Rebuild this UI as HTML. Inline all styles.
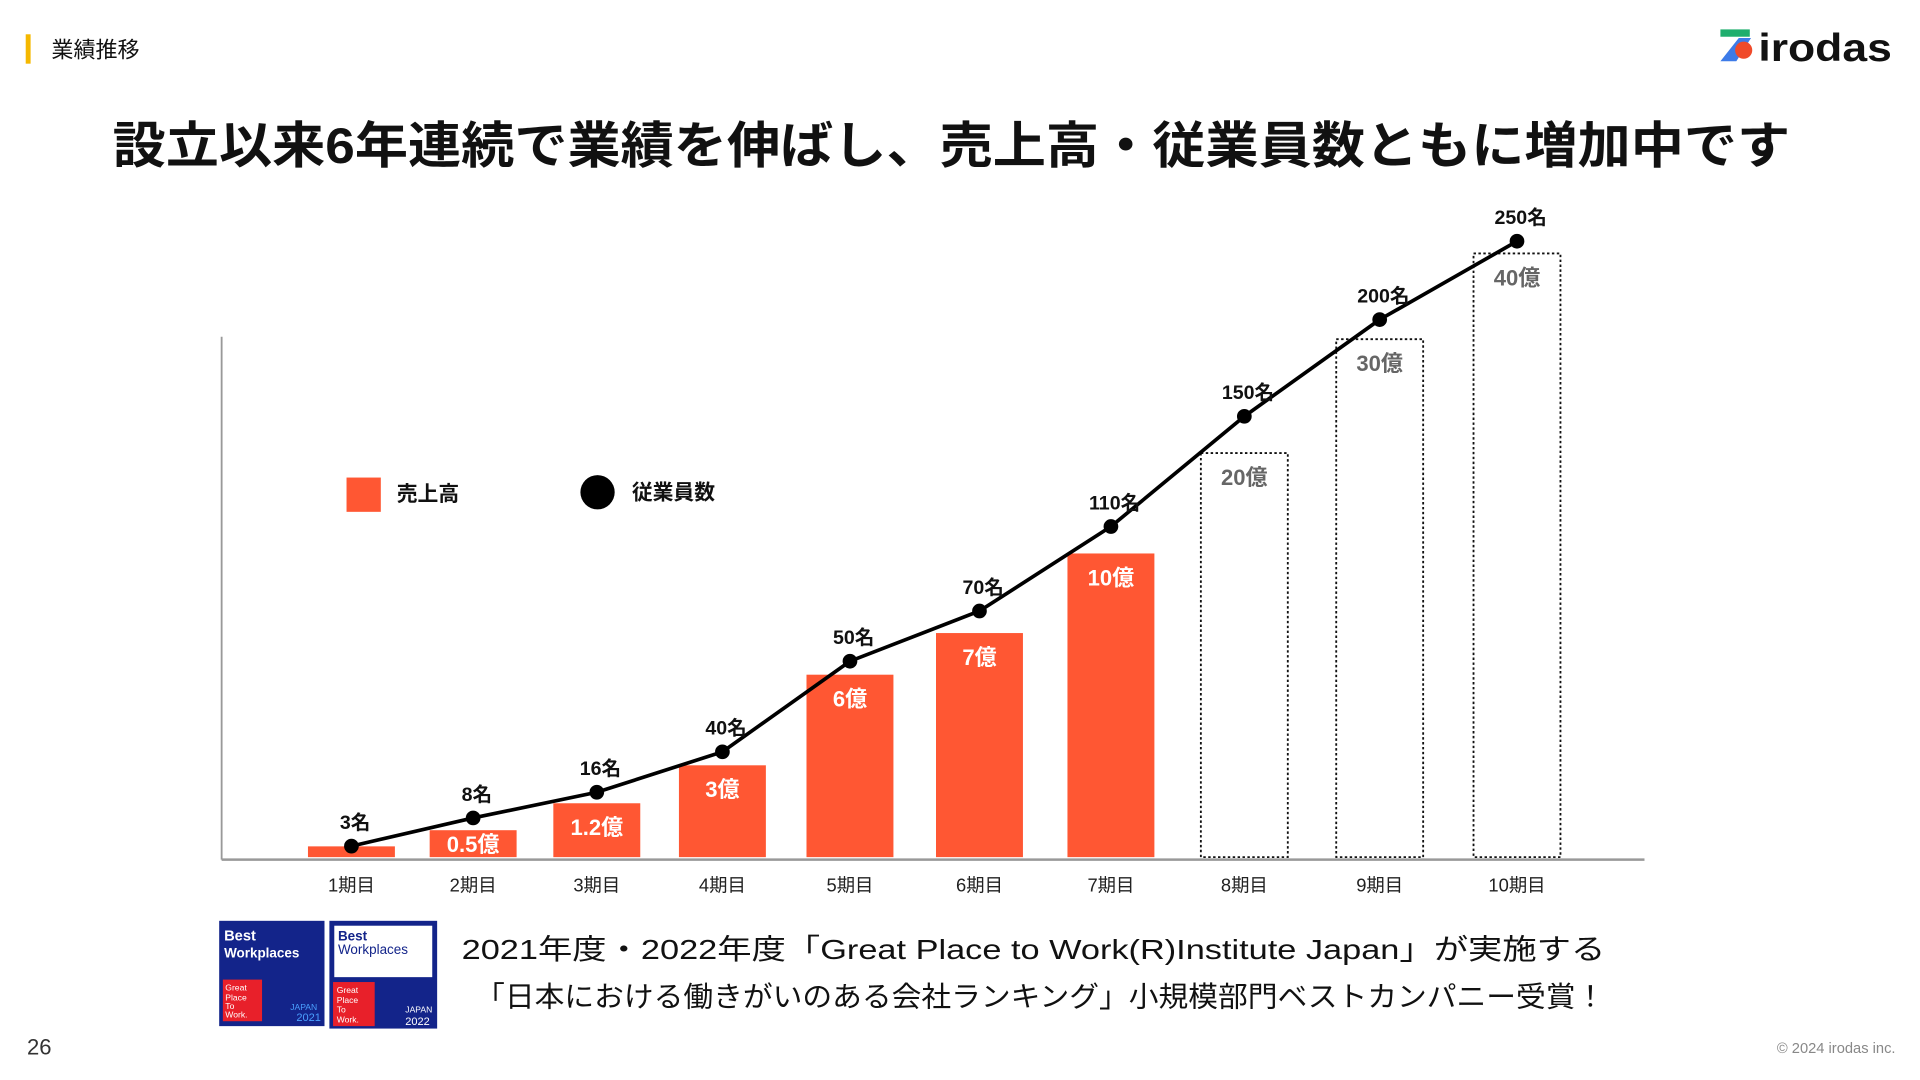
<!DOCTYPE html>
<html><head><meta charset="utf-8"><style>
html,body{margin:0;padding:0;background:#fff;width:1920px;height:1080px;overflow:hidden}
svg{display:block}
text{font-family:"Liberation Sans","Noto Sans CJK JP",sans-serif}
</style></head><body>
<svg id="s" width="1920" height="1080" viewBox="0 0 1568 882" xmlns="http://www.w3.org/2000/svg">
<rect x="21" y="28" width="4" height="24" fill="#f5b800"/>
<text x="42" y="47" font-size="18" fill="#111">業績推移</text>
<g>
<rect x="1405" y="24" width="24" height="6" fill="#1fae6e"/>
<path d="M1405 50 L1420 31 L1430 31 L1418 50 Z" fill="#3d7be8"/>
<circle cx="1424" cy="41" r="7" fill="#f04a2a"/>
<text x="1436" y="50" font-size="32" font-weight="bold" fill="#111" textLength="109" lengthAdjust="spacingAndGlyphs">irodas</text>
</g>
<text x="92" y="133" font-size="41" font-weight="bold" fill="#111" textLength="1370" lengthAdjust="spacingAndGlyphs">設立以来6年連続で業績を伸ばし、売上高・従業員数ともに増加中です</text>
<g id="chart"></g>
<g>
<rect x="283" y="390" width="28" height="28" fill="#ff5733"/>
<text x="324" y="409" font-size="17" font-weight="bold" fill="#111">売上高</text>
<circle cx="488" cy="402" r="14" fill="#000"/>
<text x="516" y="408" font-size="17" font-weight="bold" fill="#111">従業員数</text>
</g>
<g>
<rect x="179" y="752" width="86" height="86" fill="#13248a"/>
<text x="183" y="768" font-size="12" font-weight="bold" fill="#fff">Best</text>
<text x="183" y="782" font-size="11" font-weight="bold" fill="#fff">Workplaces</text>
<rect x="182" y="800" width="32" height="34" fill="#e8202a"/>
<text x="184" y="809" font-size="7" fill="#fff">Great</text>
<text x="184" y="817" font-size="7" fill="#fff">Place</text>
<text x="184" y="824" font-size="7" fill="#fff">To</text>
<text x="184" y="831" font-size="7" fill="#fff">Work.</text>
<text x="237" y="825" font-size="7" fill="#4aa0ff">JAPAN</text>
<text x="242" y="834" font-size="9" fill="#4aa0ff">2021</text>
</g>
<g>
<rect x="269" y="752" width="88" height="88" fill="#13248a"/>
<rect x="273" y="756" width="80" height="42" fill="#fff"/>
<text x="276" y="768" font-size="11" font-weight="bold" fill="#13248a">Best</text>
<text x="276" y="779" font-size="11" fill="#13248a">Workplaces</text>
<rect x="272" y="802" width="34" height="36" fill="#e8202a"/>
<text x="275" y="811" font-size="7" fill="#fff">Great</text>
<text x="275" y="819" font-size="7" fill="#fff">Place</text>
<text x="275" y="827" font-size="7" fill="#fff">To</text>
<text x="275" y="835" font-size="7" fill="#fff">Work.</text>
<text x="331" y="827" font-size="7" fill="#fff">JAPAN</text>
<text x="331" y="837" font-size="9" fill="#fff">2022</text>
</g>
<text x="377" y="783" font-size="23" fill="#111" textLength="934" lengthAdjust="spacingAndGlyphs">2021年度・2022年度「Great Place to Work(R)Institute Japan」が実施する</text>
<text x="388" y="822" font-size="23" fill="#111" textLength="923" lengthAdjust="spacingAndGlyphs">「日本における働きがいのある会社ランキング」小規模部門ベストカンパニー受賞！</text>
<text x="22" y="861" font-size="18" fill="#333">26</text>
<text x="1548" y="860" font-size="12" fill="#888" text-anchor="end">© 2024 irodas inc.</text>
</svg>
<script>
const categories=["1期目","2期目","3期目","4期目","5期目","6期目","7期目","8期目","9期目","10期目"];
const salesValues=[0.2,0.5,1.2,3,6,7,10,20,30,40];
const salesLabels=["","0.5億","1.2億","3億","6億","7億","10億","20億","30億","40億"];
const salesActual=[true,true,true,true,true,true,true,false,false,false];
const employeeValues=[3,8,16,40,50,70,110,150,200,250];
const employeeLabels=["3名","8名","16名","40名","50名","70名","110名","150名","200名","250名"];

const NS="http://www.w3.org/2000/svg";
const g=document.getElementById('chart');
function mk(t,a){const e=document.createElementNS(NS,t);for(const k in a)e.setAttribute(k,a[k]);g.appendChild(e);return e;}
// category axis (slightly widening spacing, as on the slide)
function xScale(i){return 287+98.6*i+0.796*i*i;}
// non-linear (piecewise) value axes as drawn in the slide
const base=700;
function piece(v,dom,rng){for(let i=1;i<dom.length;i++){if(v<=dom[i]||i===dom.length-1){const t=(v-dom[i-1])/(dom[i]-dom[i-1]);return rng[i-1]+t*(rng[i]-rng[i-1]);}}}
function ySales(v){return piece(v,[0,0.5,1.2,3,6,7,10,20,30,40],[700,678,656,625,551,517,452,370,277,207]);}
function yEmp(v){return piece(v,[0,3,8,16,40,50,70,110,150,200,250],[706,691,668,647,614,540,499,430,340,261,197]);}

let e;
e=mk('line',{x1:181,y1:275,x2:181,y2:702,stroke:'#999','stroke-width':1.5});


e=mk('line',{x1:181,y1:702,x2:1343,y2:702,stroke:'#999','stroke-width':2});



const bw=71;
categories.forEach((c,i)=>{
  const cx=xScale(i), top=ySales(salesValues[i]);
  if(salesActual[i]){
    e=mk('rect',{x:cx-bw/2,y:top,width:bw,height:base-top,fill:'#ff5733'});
  }else{
    e=mk('rect',{x:cx-bw/2,y:top,width:bw,height:base-top,fill:'none',stroke:'#111','stroke-width':1.5,'stroke-dasharray':'2 2'});
  }
  
  
  if(salesLabels[i]){
    const ly=Math.min(top+26,(top+base)/2+7);
    e=mk('text',{x:cx,y:ly,'font-size':18,'font-weight':'bold','text-anchor':'middle',fill:salesActual[i]?'#fff':'#666'});
    e.textContent=salesLabels[i];
    
    
  }
  e=mk('text',{x:cx,y:728,'font-size':15,'text-anchor':'middle',fill:'#222'});
  e.textContent=c;
  
  
});
const pts=employeeValues.map((v,i)=>xScale(i)+','+yEmp(v)).join(' ');
e=mk('polyline',{points:pts,fill:'none',stroke:'#000','stroke-width':3});


employeeValues.forEach((v,i)=>{
  const cx=xScale(i), cy=yEmp(v);
  e=mk('circle',{cx:cx,cy:cy,r:6,fill:'#000'});
  
  
  e=mk('text',{x:cx+3,y:cy-14,'font-size':16,'font-weight':'bold','text-anchor':'middle',fill:'#111'});
  e.textContent=employeeLabels[i];
  
  
});
</script>
</body></html>
